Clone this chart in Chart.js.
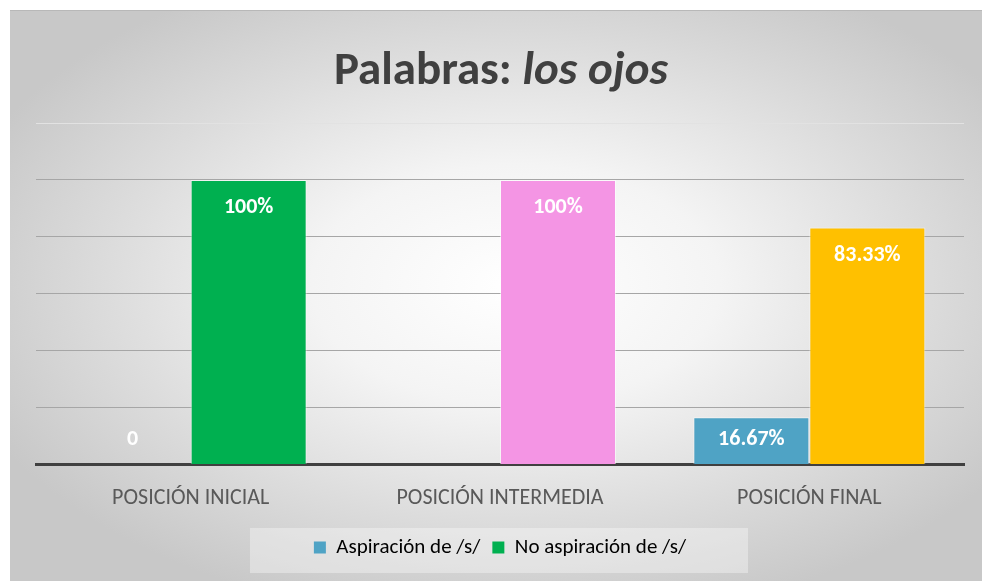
<!DOCTYPE html>
<html>

<head>
    <title>Palabras: los ojos</title>
    <script src="https://cdn.jsdelivr.net/npm/chart.js@4.4.0/dist/chart.umd.min.js"></script>
    <style>
        body {
            margin: 0;
            background: #ffffff;
        }

        .box {
            position: absolute;
            left: 10px;
            top: 10px;
            width: 972px;
            height: 571px;
            border-top: 1px solid #b8b8b8;
            box-sizing: border-box;
            background: radial-gradient(ellipse 60% 60% at 52% 48%, #ffffff 0%, #f4f4f4 35%, #dcdcdc 70%, #c8c8c8 100%);
        }
    </style>
</head>

<body>
    <div class="box">
        <canvas id="chart" width="972" height="570"></canvas>
    </div>

    <script>
        const categories = ['POSICIÓN INICIAL', 'POSICIÓN INTERMEDIA', 'POSICIÓN FINAL'];
        const aspiracion = [0, null, 16.67];
        const noAspiracion = [100, 100, 83.33];
        const aspLabels = ['0', '', '16.67%'];
        const noAspLabels = ['100%', '100%', '83.33%'];
        const seriesNames = ['Aspiración de /s/', 'No aspiración de /s/'];
        const aspColor = '#4fa3c5';
        const noAspColors = ['#00b050', '#f495e4', '#ffc000'];

        const fontFamily = "Carlito, 'Liberation Sans Narrow', Lato, sans-serif";

        // background box behind the legend + the title with the italic part
        const decor = {
            id: 'decor',
            beforeDraw(chart) {
                const ctx = chart.ctx;
                ctx.save();
                ctx.fillStyle = 'rgba(255,255,255,0.35)';
                ctx.fillRect(240, 517, 498, 45);
                ctx.restore();
            },
            afterDraw(chart) {
                const ctx = chart.ctx;
                ctx.save();
                ctx.fillStyle = '#404040';
                ctx.textBaseline = 'middle';
                const a = 'Palabras: ';
                const b = 'los ojos';
                ctx.font = 'bold 47px ' + fontFamily;
                const wa = ctx.measureText(a).width;
                ctx.font = 'italic bold 47px ' + fontFamily;
                const wb = ctx.measureText(b).width;
                const x0 = (chart.width - wa - wb) / 2 + 5;
                ctx.font = 'bold 47px ' + fontFamily;
                ctx.fillText(a, x0, 61);
                ctx.font = 'italic bold 47px ' + fontFamily;
                ctx.fillText(b, x0 + wa, 61);
                ctx.restore();
            }
        };

        // value labels inside the top of each bar
        const barLabels = {
            id: 'barLabels',
            afterDatasetsDraw(chart) {
                const ctx = chart.ctx;
                const base = chart.scales.y.getPixelForValue(0);
                ctx.save();
                ctx.fillStyle = '#ffffff';
                ctx.font = 'bold 22px ' + fontFamily;
                ctx.textAlign = 'center';
                ctx.textBaseline = 'middle';
                const texts = [aspLabels, noAspLabels];
                chart.data.datasets.forEach((ds, di) => {
                    chart.getDatasetMeta(di).data.forEach((bar, i) => {
                        const t = texts[di][i];
                        if (!t) return;
                        const y = Math.min(bar.y + 28, base - 25);
                        ctx.fillText(t, bar.x, y);
                    });
                });
                ctx.restore();
            }
        };

        new Chart(document.getElementById('chart'), {
            type: 'bar',
            data: {
                labels: categories,
                datasets: [{
                    label: seriesNames[0],
                    data: aspiracion,
                    backgroundColor: aspColor,
                    borderColor: 'rgba(255,255,255,0.5)',
                    borderWidth: ctx => ctx.raw ? 1 : 0,
                    categoryPercentage: 0.75,
                    barPercentage: 1
                }, {
                    label: seriesNames[1],
                    data: noAspiracion,
                    backgroundColor: noAspColors,
                    borderColor: 'rgba(255,255,255,0.5)',
                    borderWidth: 1,
                    categoryPercentage: 0.75,
                    barPercentage: 1
                }]
            },
            options: {
                responsive: false,
                animation: false,
                layout: {
                    padding: { top: 112, left: 26, right: 18, bottom: 13 }
                },
                scales: {
                    x: {
                        grid: { display: false },
                        border: { display: true, color: '#404040', width: 3 },
                        ticks: {
                            color: '#595959',
                            padding: 13,
                            font: { family: fontFamily, size: 22 }
                        }
                    },
                    y: {
                        min: 0,
                        max: 120,
                        ticks: { display: false, stepSize: 20 },
                        border: { display: false },
                        grid: {
                            color: ctx => ctx.tick && ctx.tick.value === 120 ? '#e2e2e2' : '#a6a6a6',
                            lineWidth: 1,
                            drawTicks: false
                        }
                    }
                },
                plugins: {
                    title: { display: false },
                    tooltip: { enabled: false },
                    legend: {
                        position: 'bottom',
                        labels: {
                            color: '#404040',
                            boxWidth: 12,
                            boxHeight: 12,
                            padding: 12,
                            font: { family: fontFamily, size: 21 },
                            generateLabels: () => [
                                { text: seriesNames[0], fillStyle: aspColor, strokeStyle: aspColor, lineWidth: 0, datasetIndex: 0 },
                                { text: seriesNames[1], fillStyle: noAspColors[0], strokeStyle: noAspColors[0], lineWidth: 0, datasetIndex: 1 }
                            ]
                        }
                    }
                }
            },
            plugins: [decor, barLabels]
        });
    </script>
</body>

</html>
